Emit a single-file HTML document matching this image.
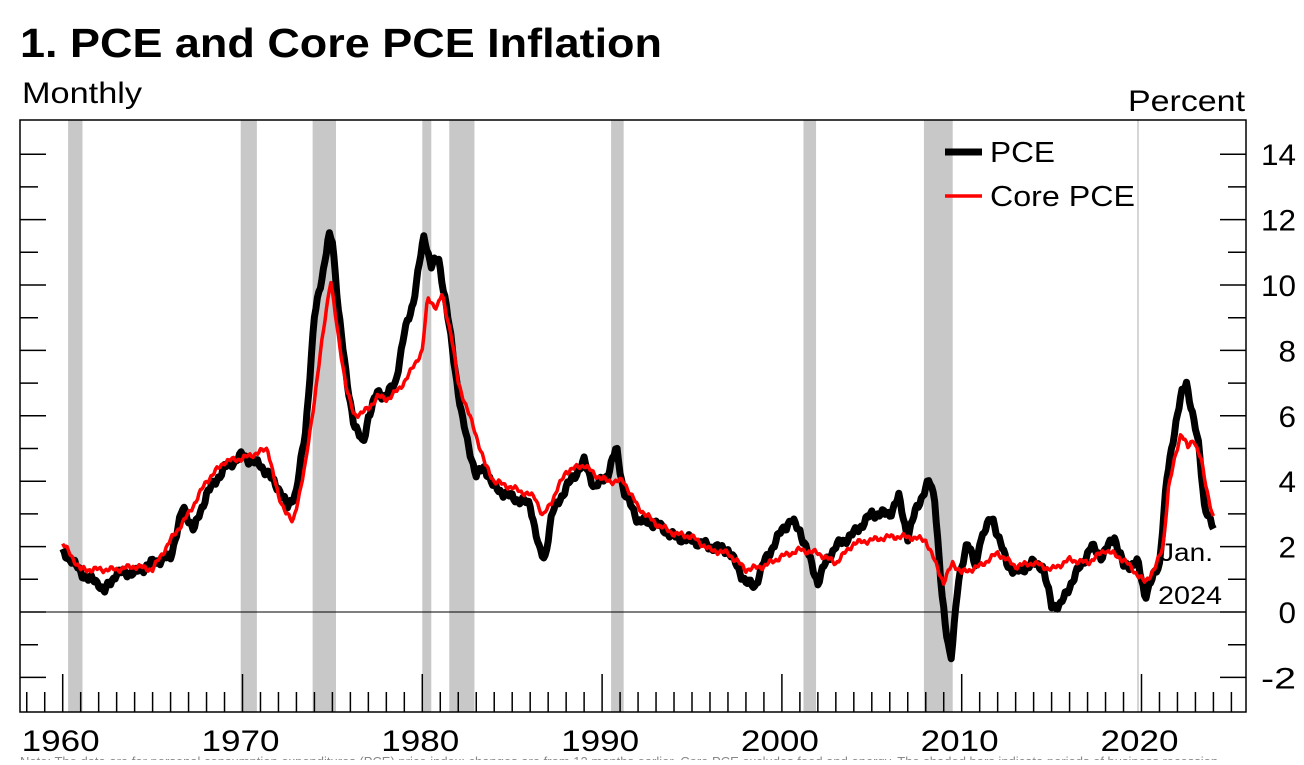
<!DOCTYPE html>
<html><head><meta charset="utf-8"><style>
body{margin:0;background:#fff;width:1304px;height:760px;overflow:hidden;font-family:"Liberation Sans",Arial,sans-serif}
</style></head><body>
<svg id="s" width="1304" height="760" xmlns="http://www.w3.org/2000/svg" font-family="Liberation Sans, Arial, sans-serif">
<text x="20" y="57" font-size="41" font-weight="bold" textLength="642" lengthAdjust="spacingAndGlyphs">1. PCE and Core PCE Inflation</text>
<text x="22" y="103" font-size="30" textLength="120" lengthAdjust="spacingAndGlyphs">Monthly</text>
<text x="1128" y="111" font-size="30" textLength="117" lengthAdjust="spacingAndGlyphs">Percent</text>
<g id="rec" fill="#c8c8c8"></g>
<line x1="1138" y1="120" x2="1138" y2="712" stroke="#c8c8c8" stroke-width="1.5"/>
<line x1="20" y1="612" x2="1246" y2="612" stroke="#000" stroke-width="1"/>
<g id="ax" stroke="#000" stroke-width="1.5"></g>
<g id="lab" font-size="30"></g>
<polyline id="pce" fill="none" stroke="#000" stroke-width="7" stroke-linejoin="round"/>
<polyline id="core" fill="none" stroke="#f00" stroke-width="3.5" stroke-linejoin="round"/>
<line x1="945" y1="152" x2="982" y2="152" stroke="#000" stroke-width="7"/>
<text x="990" y="162" font-size="29" textLength="65" lengthAdjust="spacingAndGlyphs">PCE</text>
<line x1="945" y1="196" x2="982" y2="196" stroke="#f00" stroke-width="3.5"/>
<text x="990" y="206" font-size="29" textLength="145" lengthAdjust="spacingAndGlyphs">Core PCE</text>
<text x="1160" y="561" font-size="25" textLength="53" lengthAdjust="spacingAndGlyphs">Jan.</text>
<text x="1158" y="604" font-size="25" textLength="64" lengthAdjust="spacingAndGlyphs">2024</text>
<text x="20" y="766" font-size="13" fill="#888">Note: The data are for personal consumption expenditures (PCE) price index; changes are from 12 months earlier. Core PCE excludes food and energy. The shaded bars indicate periods of business recession.</text>
</svg>
<script>
var NS="http://www.w3.org/2000/svg";
function X(y){return 62.7+(y-1960)*17.98}
function Y(v){return 612-v*32.7}
function el(p,t,a){var e=document.createElementNS(NS,t);for(var k in a)e.setAttribute(k,a[k]);document.getElementById(p).appendChild(e);return e}
[[1960.3,1961.1],[1969.9,1970.8],[1973.9,1975.2],[1980.0,1980.5],[1981.5,1982.9],[1990.5,1991.2],[2001.2,2001.9],[2007.9,2009.5]].forEach(function(r){el("rec","rect",{x:X(r[0]),y:120,width:X(r[1])-X(r[0]),height:592})});
el("ax","rect",{x:20,y:120,width:1226,height:592,fill:"none"});
for(var yr=1958;yr<=2026;yr++){var x=X(yr);if(x<21||x>1245)continue;var L=(yr%10==0)?38:20;el("ax","line",{x1:x,y1:712,x2:x,y2:712-L})}
for(var v=-2;v<=14;v++){var y=Y(v);var L=(v%2==0)?26:18;el("ax","line",{x1:1246,y1:y,x2:1246-L,y2:y});el("ax","line",{x1:20,y1:y,x2:20+L,y2:y});
if(v%2==0){var s=v<0?("-"+(-v)):(""+v);var t=el("lab","text",{x:1296,y:y+11,"text-anchor":"end",textLength:s.length*17.5,lengthAdjust:"spacingAndGlyphs"});t.textContent=s}}
for(var d=1960;d<=2020;d+=10){var t=el("lab","text",{x:X(d)-41,y:751,textLength:78,lengthAdjust:"spacingAndGlyphs"});t.textContent=d}
var P=[[1960,1.8],[1960.5,1.6],[1961,1.2],[1961.5,1.0],[1962,0.9],[1962.3,0.6],[1963,1.2],[1964,1.2],[1965,1.5],[1966,1.7],[1966.7,3.2],[1967.3,2.5],[1968,3.6],[1969,4.4],[1970,4.8],[1970.5,4.6],[1971,4.5],[1972,3.8],[1972.5,3.2],[1973,3.7],[1973.5,5.5],[1974,9.0],[1974.5,10.5],[1974.8,11.5],[1975,11.3],[1975.3,9.5],[1975.8,7.0],[1976.2,5.8],[1976.7,5.1],[1977,6.0],[1977.5,6.7],[1978,6.6],[1978.5,7.0],[1979,8.5],[1979.5,9.5],[1980.1,11.5],[1980.5,10.6],[1980.9,10.8],[1981.3,9.5],[1981.8,7.5],[1982.2,6.0],[1982.5,5.2],[1983,4.2],[1983.5,4.4],[1984,3.8],[1985,3.5],[1986,3.3],[1986.5,1.9],[1986.8,1.6],[1987.2,3.0],[1988,3.8],[1989,4.6],[1989.6,3.8],[1990.3,4.2],[1990.8,5.0],[1991.2,3.7],[1992,2.8],[1993,2.7],[1994,2.3],[1995,2.2],[1996,2.0],[1997,1.9],[1998,0.9],[1998.5,0.8],[1999,1.5],[2000,2.5],[2000.5,2.8],[2001,2.5],[2002,0.9],[2002.5,1.6],[2003,2.0],[2004,2.4],[2005,3.0],[2006,3.0],[2006.5,3.5],[2007,2.3],[2007.5,3.2],[2008.2,4.0],[2008.5,3.5],[2008.9,0.5],[2009.1,-0.5],[2009.4,-1.4],[2009.8,0.8],[2010.3,2.2],[2010.8,1.3],[2011,2.2],[2011.7,2.9],[2012.5,1.5],[2013,1.2],[2014,1.5],[2014.5,1.4],[2015,0.2],[2015.5,0.2],[2016,0.8],[2016.8,1.6],[2017.2,2.0],[2017.8,1.7],[2018.5,2.3],[2019,1.4],[2019.8,1.5],[2020.2,0.5],[2020.6,1.0],[2021,1.5],[2021.4,4.0],[2021.9,5.8],[2022.2,6.6],[2022.5,7.0],[2022.8,6.2],[2023.2,5.0],[2023.5,3.3],[2024.0,2.5]];
var C=[[1960,2.1],[1961,1.3],[1962,1.3],[1963,1.3],[1964,1.4],[1965,1.3],[1966,2.2],[1967,3.0],[1968,4.0],[1969,4.6],[1970,4.7],[1971,4.9],[1971.4,5.0],[1972,3.5],[1972.8,2.7],[1973.5,4.5],[1974,6.5],[1974.6,9.0],[1974.9,10.2],[1975.3,8.5],[1975.8,6.8],[1976.2,6.0],[1977,6.2],[1977.5,6.6],[1978,6.5],[1978.7,6.8],[1979.3,7.3],[1980,8.0],[1980.3,9.6],[1980.8,9.3],[1981.1,9.7],[1981.6,8.5],[1982,7.0],[1982.5,6.2],[1983,5.4],[1983.5,4.5],[1984,4.0],[1985,3.8],[1986.3,3.5],[1986.7,2.9],[1987.2,3.4],[1988,4.3],[1989,4.5],[1989.6,4.2],[1990.3,4.0],[1991.2,4.0],[1992,3.2],[1993,2.7],[1994,2.4],[1995,2.3],[1996,1.9],[1997,1.8],[1998,1.3],[1999,1.4],[2000,1.7],[2001,1.9],[2002,1.8],[2003,1.5],[2004,2.1],[2005,2.2],[2006,2.3],[2007,2.3],[2008,2.2],[2009,0.9],[2009.5,1.5],[2010,1.2],[2011,1.4],[2012,1.8],[2013,1.4],[2014,1.5],[2015,1.3],[2016,1.6],[2017,1.5],[2018,1.9],[2019,1.6],[2020.2,0.9],[2020.8,1.4],[2021.2,2.0],[2021.5,3.8],[2021.9,4.8],[2022.2,5.5],[2022.6,5.0],[2022.9,5.3],[2023.3,4.7],[2023.6,3.8],[2024.0,2.9]];
function interp(D,t){for(var i=1;i<D.length;i++){if(t<=D[i][0]){var a=D[i-1],b=D[i];return a[1]+(b[1]-a[1])*(t-a[0])/(b[0]-a[0])}}return D[D.length-1][1]}
function pts(D,amp,seed){var s=[];for(var m=0;m<=768;m++){var t=1960+m/12;var n=Math.sin(m*1.7+seed)*0.5+Math.sin(m*0.63+seed*2)*0.5;s.push(X(t).toFixed(1)+","+Y(interp(D,t)+n*amp).toFixed(1))}return s.join(" ")}
document.getElementById("pce").setAttribute("points",pts(P,0.15,1));
document.getElementById("core").setAttribute("points",pts(C,0.1,3));
</script>
</body></html>
